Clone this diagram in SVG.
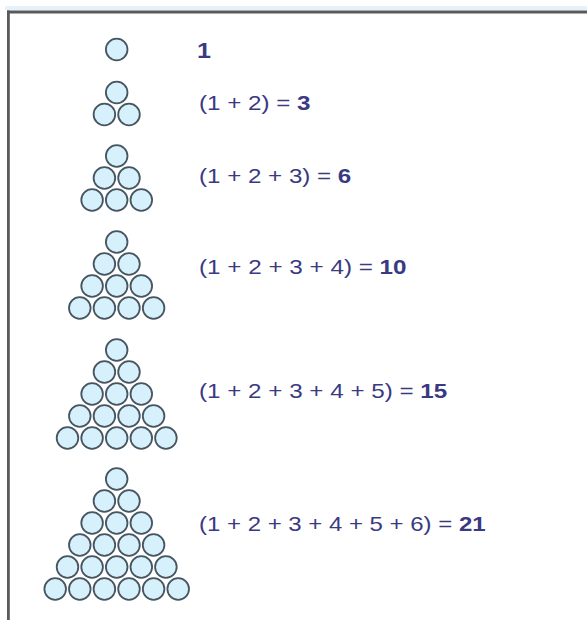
<svg xmlns="http://www.w3.org/2000/svg" width="587" height="620" viewBox="0 0 587 620">
<style>
.b{fill:#d6f0fc;stroke:#46555f;stroke-width:1.8}
.t{font-family:"Liberation Sans",Arial,sans-serif;font-size:21px;fill:#3a3a82}
.n{font-weight:bold}
</style>
<rect x="0" y="0" width="587" height="620" fill="#ffffff"/>
<g id="frame">
<rect x="5" y="6" width="582" height="4" fill="#e6f2fb"/>
<rect x="7" y="10.5" width="580" height="3" fill="#5a5a5a"/>
<rect x="7" y="10.5" width="2.8" height="609.5" fill="#5a5a5a"/>
</g>
<g id="tri1">
<circle class="b" cx="116.7" cy="49.5" r="10.8"/>
</g>
<g id="tri2">
<circle class="b" cx="116.7" cy="92.5" r="10.8"/>
<circle class="b" cx="104.4" cy="114.5" r="10.8"/>
<circle class="b" cx="129" cy="114.5" r="10.8"/>
</g>
<g id="tri3">
<circle class="b" cx="116.7" cy="156" r="10.8"/>
<circle class="b" cx="104.4" cy="178" r="10.8"/>
<circle class="b" cx="129" cy="178" r="10.8"/>
<circle class="b" cx="92.1" cy="200" r="10.8"/>
<circle class="b" cx="116.7" cy="200" r="10.8"/>
<circle class="b" cx="141.3" cy="200" r="10.8"/>
</g>
<g id="tri4">
<circle class="b" cx="116.7" cy="242" r="10.8"/>
<circle class="b" cx="104.4" cy="264" r="10.8"/>
<circle class="b" cx="129" cy="264" r="10.8"/>
<circle class="b" cx="92.1" cy="286" r="10.8"/>
<circle class="b" cx="116.7" cy="286" r="10.8"/>
<circle class="b" cx="141.3" cy="286" r="10.8"/>
<circle class="b" cx="79.8" cy="308" r="10.8"/>
<circle class="b" cx="104.4" cy="308" r="10.8"/>
<circle class="b" cx="129" cy="308" r="10.8"/>
<circle class="b" cx="153.6" cy="308" r="10.8"/>
</g>
<g id="tri5">
<circle class="b" cx="116.7" cy="350" r="10.8"/>
<circle class="b" cx="104.4" cy="372" r="10.8"/>
<circle class="b" cx="129" cy="372" r="10.8"/>
<circle class="b" cx="92.1" cy="394" r="10.8"/>
<circle class="b" cx="116.7" cy="394" r="10.8"/>
<circle class="b" cx="141.3" cy="394" r="10.8"/>
<circle class="b" cx="79.8" cy="416" r="10.8"/>
<circle class="b" cx="104.4" cy="416" r="10.8"/>
<circle class="b" cx="129" cy="416" r="10.8"/>
<circle class="b" cx="153.6" cy="416" r="10.8"/>
<circle class="b" cx="67.5" cy="438" r="10.8"/>
<circle class="b" cx="92.1" cy="438" r="10.8"/>
<circle class="b" cx="116.7" cy="438" r="10.8"/>
<circle class="b" cx="141.3" cy="438" r="10.8"/>
<circle class="b" cx="165.9" cy="438" r="10.8"/>
</g>
<g id="tri6">
<circle class="b" cx="116.7" cy="479" r="10.8"/>
<circle class="b" cx="104.4" cy="501" r="10.8"/>
<circle class="b" cx="129" cy="501" r="10.8"/>
<circle class="b" cx="92.1" cy="523" r="10.8"/>
<circle class="b" cx="116.7" cy="523" r="10.8"/>
<circle class="b" cx="141.3" cy="523" r="10.8"/>
<circle class="b" cx="79.8" cy="545" r="10.8"/>
<circle class="b" cx="104.4" cy="545" r="10.8"/>
<circle class="b" cx="129" cy="545" r="10.8"/>
<circle class="b" cx="153.6" cy="545" r="10.8"/>
<circle class="b" cx="67.5" cy="567" r="10.8"/>
<circle class="b" cx="92.1" cy="567" r="10.8"/>
<circle class="b" cx="116.7" cy="567" r="10.8"/>
<circle class="b" cx="141.3" cy="567" r="10.8"/>
<circle class="b" cx="165.9" cy="567" r="10.8"/>
<circle class="b" cx="55.2" cy="589" r="10.8"/>
<circle class="b" cx="79.8" cy="589" r="10.8"/>
<circle class="b" cx="104.4" cy="589" r="10.8"/>
<circle class="b" cx="129" cy="589" r="10.8"/>
<circle class="b" cx="153.6" cy="589" r="10.8"/>
<circle class="b" cx="178.2" cy="589" r="10.8"/>
</g>
<g id="labels">
<text class="t n" x="197" y="58" style="font-size:22px" textLength="14" lengthAdjust="spacingAndGlyphs">1</text>
<text class="t" x="199" y="110" textLength="111.6" lengthAdjust="spacingAndGlyphs">(1 + 2) = <tspan class="n">3</tspan></text>
<text class="t" x="199" y="183" textLength="152.3" lengthAdjust="spacingAndGlyphs">(1 + 2 + 3) = <tspan class="n">6</tspan></text>
<text class="t" x="199" y="273.5" textLength="207.6" lengthAdjust="spacingAndGlyphs">(1 + 2 + 3 + 4) = <tspan class="n">10</tspan></text>
<text class="t" x="199" y="398" textLength="248.3" lengthAdjust="spacingAndGlyphs">(1 + 2 + 3 + 4 + 5) = <tspan class="n">15</tspan></text>
<text class="t" x="199" y="530.5" textLength="286.6" lengthAdjust="spacingAndGlyphs">(1 + 2 + 3 + 4 + 5 + 6) = <tspan class="n">21</tspan></text>
</g>
</svg>
